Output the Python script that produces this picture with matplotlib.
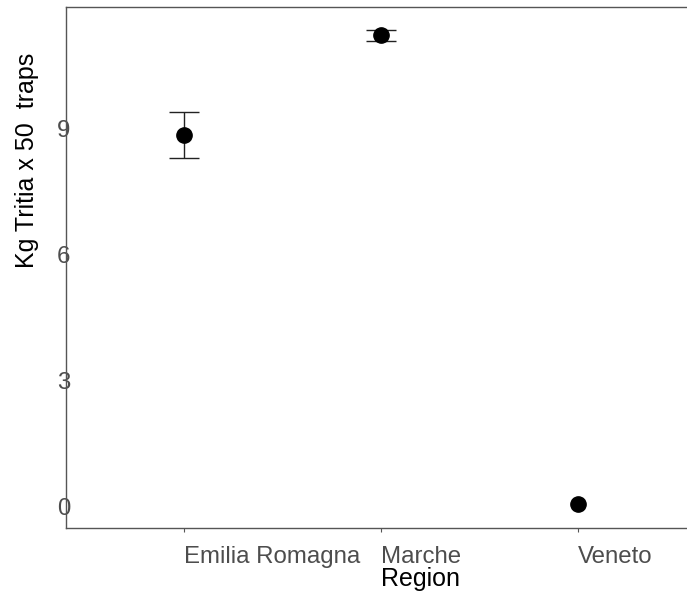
import matplotlib
matplotlib.use("Agg")
import matplotlib.pyplot as plt

plt.rcParams['font.family'] = ['Liberation Sans', 'DejaVu Sans']

regions = ["Emilia Romagna", "Marche", "Veneto"]
mean_kg = [8.83, 11.21, 0.05]
lower_kg = [8.29, 11.07, 0.05]
upper_kg = [9.38, 11.33, 0.05]
y_ticks = [0, 3, 6, 9]

W, H = 687, 594
fig = plt.figure(figsize=(W / 100, H / 100), dpi=100)
# panel runs past the right edge, as in the original (cropped)
ax = fig.add_axes([66 / W, 1 - 528 / H, 630 / W, 521 / H])

xpos = list(range(len(regions)))
# only draw error bars where there is a spread (Veneto has none)
eb = [i for i in xpos if upper_kg[i] > lower_kg[i]]
ax.errorbar([xpos[i] for i in eb], [mean_kg[i] for i in eb],
            yerr=[[mean_kg[i] - lower_kg[i] for i in eb],
                  [upper_kg[i] - mean_kg[i] for i in eb]],
            fmt='none', ecolor='#222222', elinewidth=1.0,
            capsize=11, capthick=1.0, zorder=2)
ax.plot(xpos, mean_kg, 'o', color='black', markersize=11, zorder=3)

ax.set_xlim(-0.6, 2.6)
ax.set_ylim(-0.52, 11.88)
ax.set_xticks(xpos)
ax.set_xticklabels(regions, ha='left')
ax.set_yticks(y_ticks)

ax.spines['right'].set_visible(False)
for s in ['left', 'bottom', 'top']:
    ax.spines[s].set_color('#555555')
    ax.spines[s].set_linewidth(1.0)

ax.tick_params(axis='x', length=3, color='#555555', labelsize=17.3,
               labelcolor='#4D4D4D', pad=10)
ax.tick_params(axis='y', length=0, labelsize=17.3, labelcolor='#4D4D4D', pad=-3)

ax.set_xlabel("Region", fontsize=18, color='black', ha='left')
ax.xaxis.set_label_coords(315 / 630, -0.075)
ax.set_ylabel("Kg Tritia x 50  traps", fontsize=18, color='black', ha='left')
ax.yaxis.set_label_coords(-0.043, 0.5)

fig.savefig("out.png", dpi=100)
